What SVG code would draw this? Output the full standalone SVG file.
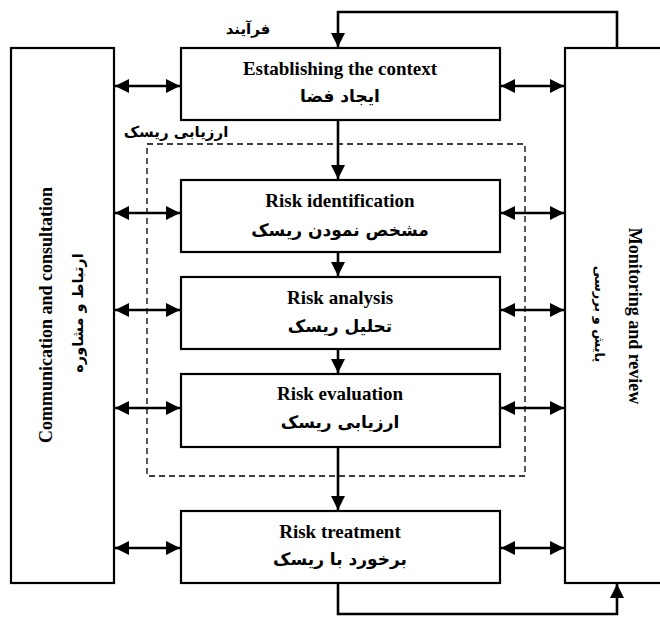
<svg xmlns="http://www.w3.org/2000/svg" width="660" height="620" viewBox="0 0 660 620">
<style>
.box{fill:#fff;stroke:#000;stroke-width:2.2}
.en{font-family:"Liberation Serif","Times New Roman",serif;font-weight:bold;font-size:19px;fill:#000;text-anchor:middle}
.fa{font-family:"DejaVu Sans",sans-serif;font-weight:bold;font-size:17px;fill:#000;text-anchor:middle}
.lbl{font-family:"DejaVu Sans",sans-serif;font-weight:bold;font-size:15px;fill:#000;text-anchor:middle}
.ven{font-family:"Liberation Serif","Times New Roman",serif;font-weight:bold;font-size:18px;fill:#000;text-anchor:middle}
.ln{fill:none;stroke:#000;stroke-width:2.6}
.dash{fill:none;stroke:#000;stroke-width:1.3;stroke-dasharray:6 4}
</style>
<defs>
<marker id="ah" viewBox="0 0 10 10" refX="10" refY="5" markerWidth="5.4" markerHeight="5.4" orient="auto-start-reverse" markerUnits="strokeWidth">
<path d="M0,0 L10,5 L0,10 z" fill="#000"/>
</marker>
</defs>
<rect width="660" height="620" fill="#fff"/>
<g id="labels">
<text class="lbl" x="248" y="34">فرآیند</text>
<text class="lbl" x="176" y="137">ارزیابی ریسک</text>
</g>
<g id="assessment">
<rect class="dash" x="147" y="144" width="378" height="332"/>
</g>
<g id="communication">
<rect class="box" x="11" y="48" width="103" height="535"/>
<text class="ven" transform="translate(52,315) rotate(-90)">Communication and consultation</text>
<text class="lbl" style="font-size:14.5px" transform="translate(83,313) rotate(-90)">ارتباط و مشاوره</text>
</g>
<g id="monitoring">
<rect class="box" x="565" y="48" width="100" height="535"/>
<text class="ven" transform="translate(629,316) rotate(90)">Monitoring and review</text>
<text class="lbl" style="font-size:13px" transform="translate(595,314) rotate(90)">پایش و بررسی</text>
</g>
<g id="context">
<rect class="box" x="181" y="48" width="319" height="72"/>
<text class="en" x="340" y="75">Establishing the context</text>
<text class="fa" x="340" y="102">ایجاد فضا</text>
</g>
<g id="identification">
<rect class="box" x="181" y="180" width="319" height="72"/>
<text class="en" x="340" y="207">Risk identification</text>
<text class="fa" x="340" y="236">مشخص نمودن ریسک</text>
</g>
<g id="analysis">
<rect class="box" x="181" y="277" width="319" height="72"/>
<text class="en" x="340" y="304">Risk analysis</text>
<text class="fa" x="340" y="332">تحلیل ریسک</text>
</g>
<g id="evaluation">
<rect class="box" x="181" y="374" width="319" height="73"/>
<text class="en" x="340" y="400">Risk evaluation</text>
<text class="fa" x="340" y="428">ارزیابی ریسک</text>
</g>
<g id="treatment">
<rect class="box" x="181" y="511" width="319" height="72"/>
<text class="en" x="340" y="538">Risk treatment</text>
<text class="fa" x="340" y="565">برخورد با ریسک</text>
</g>
<g id="connectors">
<path class="ln" d="M617,48 V12 H338 V47" marker-end="url(#ah)"/>
<path class="ln" d="M338,120 V179" marker-end="url(#ah)"/>
<path class="ln" d="M338,252 V276" marker-end="url(#ah)"/>
<path class="ln" d="M338,349 V373" marker-end="url(#ah)"/>
<path class="ln" d="M338,447 V510" marker-end="url(#ah)"/>
<path class="ln" d="M338,583 V614 H617 V584" marker-end="url(#ah)"/>
<path class="ln" d="M115,86 H180" marker-start="url(#ah)" marker-end="url(#ah)"/>
<path class="ln" d="M115,213 H180" marker-start="url(#ah)" marker-end="url(#ah)"/>
<path class="ln" d="M115,310 H180" marker-start="url(#ah)" marker-end="url(#ah)"/>
<path class="ln" d="M115,408 H180" marker-start="url(#ah)" marker-end="url(#ah)"/>
<path class="ln" d="M115,548 H180" marker-start="url(#ah)" marker-end="url(#ah)"/>
<path class="ln" d="M501,86 H564" marker-start="url(#ah)" marker-end="url(#ah)"/>
<path class="ln" d="M501,213 H564" marker-start="url(#ah)" marker-end="url(#ah)"/>
<path class="ln" d="M501,310 H564" marker-start="url(#ah)" marker-end="url(#ah)"/>
<path class="ln" d="M501,408 H564" marker-start="url(#ah)" marker-end="url(#ah)"/>
<path class="ln" d="M501,548 H564" marker-start="url(#ah)" marker-end="url(#ah)"/>
</g>
</svg>
